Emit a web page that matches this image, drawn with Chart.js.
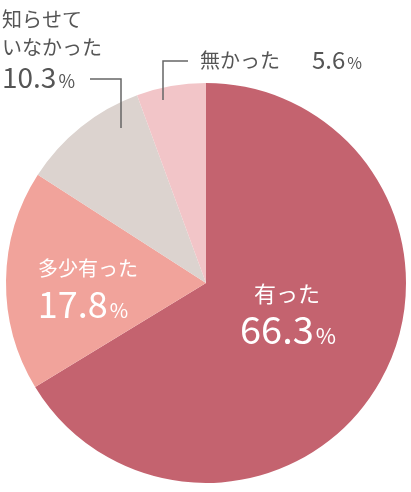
<!DOCTYPE html>
<html><head><meta charset="utf-8">
<script src="https://cdn.jsdelivr.net/npm/chart.js@4"></script>
<style>html,body{margin:0;padding:0;background:#fff}#w{width:411px;height:492px}</style>
</head><body><div id="w"><canvas id="c"></canvas></div>
<script>
const categories = ["有った","多少有った","知らせていなかった","無かった"];
const values = [66.3, 17.8, 10.3, 5.6];
const colors = ["#c4636f","#f1a39b","#dcd3cf","#f2c5c8"];
const F = '"Noto Sans CJK JP", "Noto Sans", sans-serif';
function pct(ctx, num, x, y, big, small, color, align){
  ctx.fillStyle=color; ctx.textBaseline='alphabetic';
  ctx.font = big+'px '+F; const w1=ctx.measureText(num).width;
  ctx.font = small+'px '+F; const w2=ctx.measureText('%').width;
  let sx = align==='center' ? x-(w1+w2)/2 : x;
  ctx.textAlign='left';
  ctx.font = big+'px '+F; ctx.fillText(num, sx, y);
  ctx.font = small+'px '+F; ctx.fillText('%', sx+w1+2, y);
}
const labelPlugin = {id:'labels', afterDraw(chart){
  const ctx=chart.ctx; ctx.save();
  ctx.textAlign='center'; ctx.textBaseline='alphabetic';
  ctx.fillStyle='#fff'; ctx.font='22px '+F; ctx.fillText(categories[0],287,302);
  pct(ctx, values[0].toFixed(1), 287, 344, 38, 22, '#fff','center');
  ctx.textAlign='center'; ctx.fillStyle='#fff'; ctx.font='20px '+F; ctx.fillText(categories[1],88,276);
  pct(ctx, values[1].toFixed(1), 82, 318, 36, 20, '#fff','center');
  ctx.fillStyle='#555'; ctx.textAlign='left'; ctx.font='20px '+F;
  ctx.fillText('知らせて',2,27); ctx.fillText('いなかった',2,55);
  pct(ctx, values[2].toFixed(1), 2, 88, 28, 18, '#555','left');
  ctx.textAlign='left'; ctx.fillStyle='#555'; ctx.font='20px '+F; ctx.fillText(categories[3],200,68);
  pct(ctx, values[3].toFixed(1), 312, 69, 24, 16, '#555','left');
  ctx.strokeStyle='#666'; ctx.lineWidth=1.5;
  ctx.beginPath(); ctx.moveTo(90,79); ctx.lineTo(121,79); ctx.lineTo(121,128); ctx.stroke();
  ctx.beginPath(); ctx.moveTo(188,61); ctx.lineTo(163,61); ctx.lineTo(163,100); ctx.stroke();
  ctx.restore();
}};
new Chart(document.getElementById('c'),{
  type:'pie',
  data:{labels:categories,datasets:[{data:values,backgroundColor:colors,borderWidth:0}]},
  options:{responsive:true,maintainAspectRatio:false,animation:false,
    layout:{padding:{top:83,bottom:9,left:6,right:5}},
    plugins:{legend:{display:false},tooltip:{enabled:false}}},
  plugins:[labelPlugin]
});
</script></body></html>
